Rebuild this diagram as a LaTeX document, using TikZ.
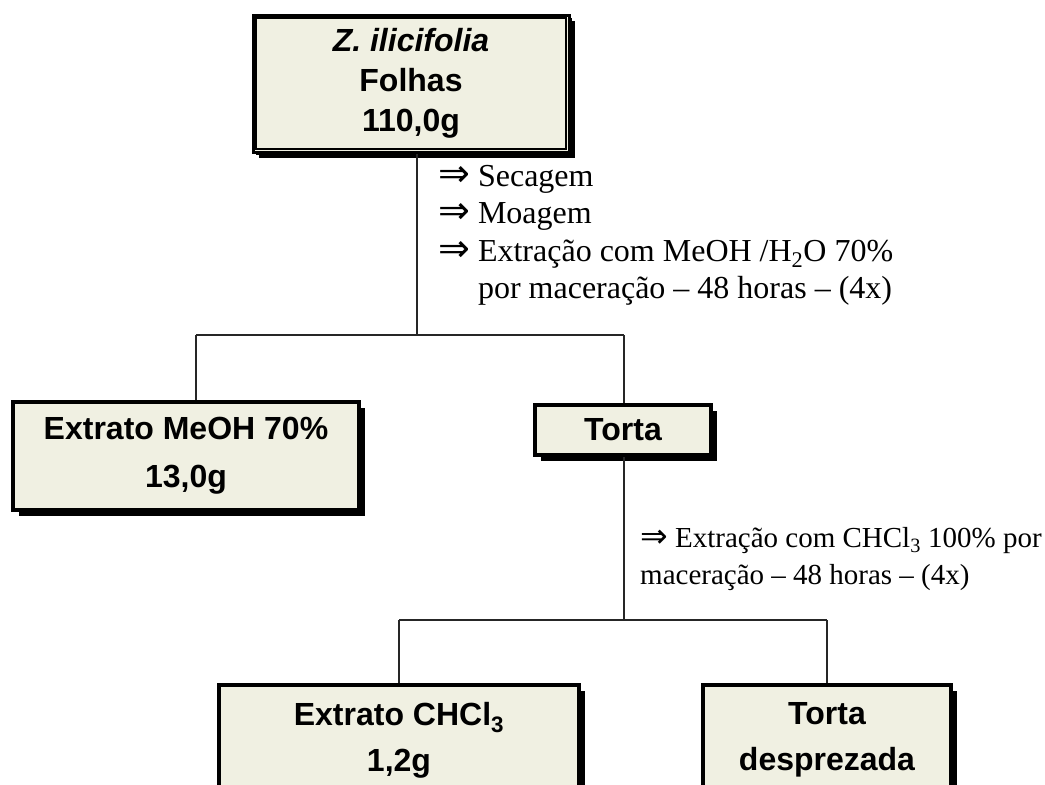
\documentclass[tikz,border=0pt]{standalone}
\usepackage{fontspec}
\setmainfont{Liberation Serif}
\newfontfamily\boxfont{Liberation Sans}
\newfontfamily\setafont{DejaVu Sans}
\usetikzlibrary{positioning,calc,shadows}
\definecolor{boxfill}{RGB}{240,240,226}
\newcommand{\seta}[1][38]{{\setafont\fontsize{#1}{30}\selectfont ⇒}}
\tikzset{
  caixa/.style={draw=black, line width=4pt, fill=boxfill, inner sep=0pt, align=center,
    font=\boxfont\bfseries\fontsize{32}{46}\selectfont,
    general shadow={fill=black, shadow xshift=6pt, shadow yshift=-6pt}},
  ligacao/.style={line width=1.5pt, black!85},
  passos/.style={inner sep=0pt, align=left, anchor=north west,
    font=\fontsize{32}{37.5}\selectfont}
}

\begin{document}
\begin{tikzpicture}[x=1pt,y=-1pt]
\fill[white] (0,0) rectangle (1045,785);
\useasboundingbox (0,0) rectangle (1045,785);

% caixas
\node[caixa, line width=3pt, minimum width=316pt, minimum height=137pt,
  font=\boxfont\bfseries\fontsize{32}{40}\selectfont,
  general shadow={fill=black, shadow xshift=3pt, shadow yshift=-3pt}]
  (folhas) at (411,83.5) {\textit{Z.\ ilicifolia}\\Folhas\\110,0g};
\draw[line width=1.2pt] ($(folhas.south west)+(4.5,-4.5)$) rectangle ($(folhas.north east)+(-4.5,4.5)$);

\node[caixa, minimum width=346pt, minimum height=108pt, font=\boxfont\bfseries\fontsize{32}{48}\selectfont]
  (extmeoh) at (186,456) {Extrato MeOH 70\%\\13,0g};
\node[caixa, minimum width=176pt, minimum height=50pt] (torta) at (623,430) {Torta};

\node[caixa, minimum width=360pt, minimum height=110pt] (extchcl) at (399,740) {Extrato CHCl\textsubscript{3}\\1,2g};
\node[caixa, minimum width=248pt, minimum height=110pt] (despr) at (827,740) {Torta\\desprezada};

% etapas
\node[passos] (etapas1) at (438,165) {\seta{} Secagem\\
  \seta{} Moagem\\
  \seta{} Extração com MeOH /H\textsubscript{2}O 70\%\\
  \phantom{\seta{}} por maceração – 48 horas – (4x)};
\node[passos, font=\fontsize{29}{37}\selectfont] (etapas2) at (640,527) {\seta[33] Extração com CHCl\textsubscript{3} 100\% por\\
  maceração – 48 horas – (4x)};

% ligacoes
\coordinate (j1) at (417,335);
\coordinate (j1e) at (196,335);
\coordinate (j1d) at (624,335);
\draw[ligacao] (folhas.south -| j1) -- (j1);
\draw[ligacao] (j1e) -- (j1d);
\draw[ligacao] (j1e) -- (extmeoh.north -| j1e);
\draw[ligacao] (j1d) -- (torta.north -| j1d);

\coordinate (j2) at (624,620);
\coordinate (j2e) at (399,620);
\coordinate (j2d) at (827,620);
\draw[ligacao] (torta.south -| j2) -- (j2);
\draw[ligacao] (j2e) -- (j2d);
\draw[ligacao] (j2e) -- (extchcl.north -| j2e);
\draw[ligacao] (j2d) -- (despr.north -| j2d);
\end{tikzpicture}
\end{document}
